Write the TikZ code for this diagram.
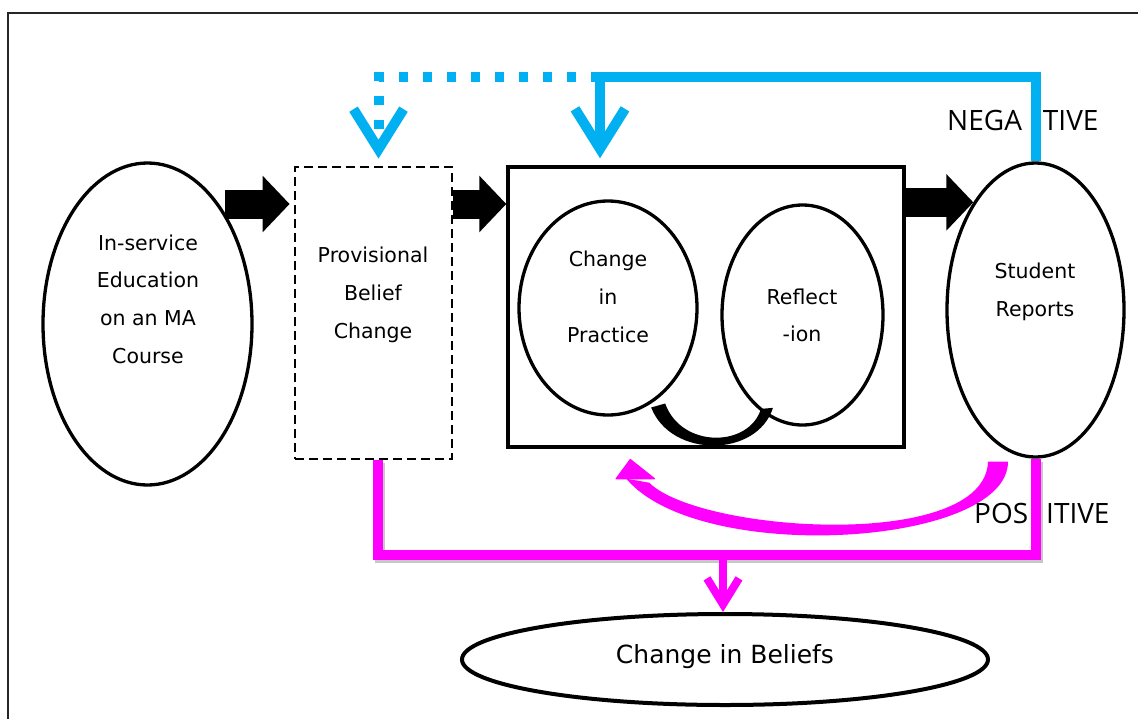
\documentclass[tikz,border=0pt]{standalone}
\usepackage{fontspec}
\setmainfont{DejaVu Sans}
\newfontfamily\labelfont{Open Sans}
\usetikzlibrary{arrows.meta,calc,shapes.geometric}
\definecolor{fbblue}{HTML}{00B0F0}
\definecolor{fbpink}{HTML}{FF00FF}

\begin{document}
\begin{tikzpicture}[x=1pt,y=-1pt,
  outline/.style={draw=black, line width=3.3pt, inner sep=0pt},
  oval/.style={outline, ellipse},
  txt/.style={align=center, font=\fontsize{20.5}{37.7}\selectfont, inner sep=0pt},
  blockarrow/.style={line width=29pt, -{Triangle[length=27pt,width=55pt]}},
  negline/.style={draw=fbblue, line width=10pt},
  negtip/.style={-{Straight Barb[length=40pt,width=50pt]}},
  posline/.style={draw=fbpink, line width=10pt},
  shadowline/.style={draw=black!22, line width=10pt},
  sidelabel/.style={font=\labelfont\fontsize{28}{34}\selectfont, inner sep=0pt, anchor=base west},
]
\useasboundingbox (0,0) rectangle (1138,718);
\clip (0,0) rectangle (1138,718);

% outer frame
\draw[line width=2pt, draw=black!85] (7.5,12.5) rectangle (1160,740);

% stages
\node[oval, minimum width=209pt, minimum height=322pt] (inse) at (147.5,324) {};
\node[txt] (inseT) at (148,299) {In-service\\Education\\on an MA\\Course};

\node[draw=black, line width=2.8pt, dash pattern=on 9pt off 5pt, inner sep=0pt,
      minimum width=157pt, minimum height=292pt] (prov) at (373.5,313) {};
\node[txt] (provT) at (373,295) {Provisional\\Belief\\Change};

\node[outline, line width=3.4pt, minimum width=396pt, minimum height=280pt] (box) at (706,307) {};

\node[oval, minimum width=178pt, minimum height=214pt] (prac) at (608,308) {};
\node[txt] (pracT) at (608,297) {Change\\in\\Practice};

\node[oval, minimum width=161pt, minimum height=220pt] (refl) at (802.5,315) {};
\node[txt] (reflT) at (802,315.5) {Reflect\\-ion};

\node[oval, minimum width=177pt, minimum height=294pt] (rep) at (1035.5,310) {};
\node[txt] (repT) at (1035,292) {Student\\Reports};

\node[oval, line width=4pt, minimum width=526pt, minimum height=91pt] (beli) at (725,659.5) {};
\node[txt, font=\fontsize{25}{30}\selectfont] (beliT) at (725,657) {Change in Beliefs};

% black block arrows along the main sequence
\coordinate (a1) at (225,204);
\draw[blockarrow] (a1) -- ([xshift=-4pt]prov.west |- a1);
\draw[blockarrow] (prov.east |- a1) -- (box.west |- a1);
\draw[blockarrow] (box.east |- rep.120.5) -- (rep.120.5);

% tapered link between practice and reflection
\coordinate (cl) at (prac.-61);
\coordinate (cr) at (refl.-112);
\fill[black] ($(cl)+(-7,9)$) .. controls ($(cl)+(13,60)$) and ($(cr)+(-6,45)$) .. ($(cr)+(10,-5)$)
  -- ($(cr)+(-2,-4)$) .. controls ($(cr)+(-14,35)$) and ($(cl)+(23,50)$) .. ($(cl)+(7,5)$) -- cycle;

% negative feedback (blue)
\coordinate (jn) at (600,77);
\draw[negline, line join=miter] (rep.north) |- (jn);
\draw[negline, negtip] ([yshift=5pt]jn) -- ([yshift=7pt]jn |- box.north);
\draw[negline, dash pattern=on 9pt off 15pt, negtip] (jn) -| ([xshift=5pt,yshift=7pt]prov.north);
\node[sidelabel] (neg) at (947,130) {NEGA\hspace{21pt}TIVE};

% positive feedback (magenta)
\coordinate (pb) at ($(prov.south)+(4,0)$);
\coordinate (pj) at (723,555);
\draw[shadowline, line join=miter, transform canvas={shift={(2pt,-3pt)}}] (pb) |- (pj) -| (rep.south);
\draw[posline, line join=miter] (pb) |- (pj) -| (rep.south);
\draw[posline, line width=8pt, -{Straight Barb[length=26pt,width=32pt]}] (pj) -- (pj |- beli.north);

% curved return arrow from the reports back to practice
\coordinate (ms) at ($(rep.south)+(-37.5,3)$);
\coordinate (me) at ($(box.south west)+(124,11)$);
\fill[fbpink] ($(ms)+(10,0)$) .. controls ($(ms)+(10,85)$) and ($(me)+(69,106)$) .. ($(me)+(-4,19)$)
  -- ($(me)+(19,23)$) .. controls ($(me)+(69,73)$) and ($(ms)+(-13,90)$) .. ($(ms)+(-10,0)$) -- cycle;
\fill[fbpink, draw=fbpink, line width=1.5pt, line join=round]
  (me) -- ($(me)+(-14,19)$) -- ($(me)+(24,19)$) -- cycle;
\node[sidelabel] (pos) at (974,523) {POS\hspace{18pt}ITIVE};
\end{tikzpicture}
\end{document}
